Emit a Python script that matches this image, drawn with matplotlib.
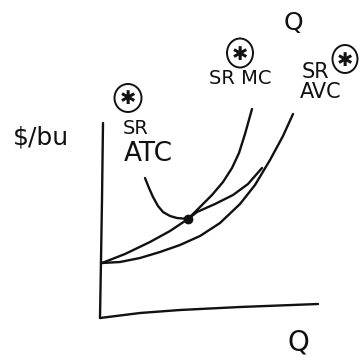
"""Hand-sketch style short-run cost curves ($/bu vs Q)."""

import matplotlib
matplotlib.use("Agg")
import matplotlib.pyplot as plt
from matplotlib.patches import Ellipse

# ── Data (sketch coordinates, pixels from top-left) ──────────────────────────
axis_v_x = [103, 102, 101, 100]
axis_v_y = [123, 200, 260, 318]
axis_h_x = [100, 140, 180, 240, 318]
axis_h_y = [318, 313, 310, 307, 304]

mc_x = [102, 125, 150, 170, 188, 200, 212, 223, 232, 239, 245, 252]
mc_y = [263, 254, 242, 231, 219, 207, 195, 182, 168, 153, 134, 109]

avc_x = [102, 120, 140, 160, 180, 200, 220, 240, 255, 270, 283, 293]
avc_y = [263, 262, 258, 252, 245, 236, 223, 204, 185, 160, 136, 114]

atc_x = [145, 149, 153, 158, 163, 170, 177, 188, 197, 215, 233, 248, 262]
atc_y = [178, 188, 197, 206, 212, 216, 218, 219, 212, 204, 195, 184, 168]

dot_x, dot_y = [188], [219]

# circled asterisks (centre x, centre y, width, height)
marks_x = [128, 240, 345]
marks_y = [98, 53, 59]
marks_w = [27, 26, 25]
marks_h = [28, 29, 28]

labels = ["$/bu", "SR", "ATC", "SR MC", "SR", "AVC", "Q", "Q"]
label_x = [41, 136, 148, 240, 315, 321, 293, 298]
label_y = [137, 128, 154, 79, 72, 92, 23, 342]
label_size = [18, 14, 19, 14, 15, 15, 18, 20]

INK = "#111111"

fig = plt.figure(figsize=(3.6, 3.62), dpi=100)
ax = fig.add_axes([0, 0, 1, 1])
ax.set_xlim(0, 360)
ax.set_ylim(362, 0)
ax.axis("off")
fig.patch.set_facecolor("white")

kw = dict(color=INK, lw=1.7, solid_capstyle="round", solid_joinstyle="round")

# axes
ax.plot(axis_v_x, axis_v_y, **kw)
ax.plot(axis_h_x, axis_h_y, **kw)

# curves
ax.plot(mc_x, mc_y, **kw)
ax.plot(avc_x, avc_y, **kw)
ax.plot(atc_x, atc_y, **kw)
ax.plot(dot_x, dot_y, "o", color=INK, ms=6)

# circled asterisks
for cx, cy, w, h in zip(marks_x, marks_y, marks_w, marks_h):
    ax.add_patch(Ellipse((cx, cy), w, h, fill=False, ec=INK, lw=1.4))
    ax.text(cx, cy + 1, "✱", ha="center", va="center", fontsize=14, color=INK)

# text
for t, x, y, s in zip(labels, label_x, label_y, label_size):
    ax.text(x, y, t, ha="center", va="center", fontsize=s, color=INK)

fig.savefig("out.png", dpi=100, facecolor="white")
plt.close()
